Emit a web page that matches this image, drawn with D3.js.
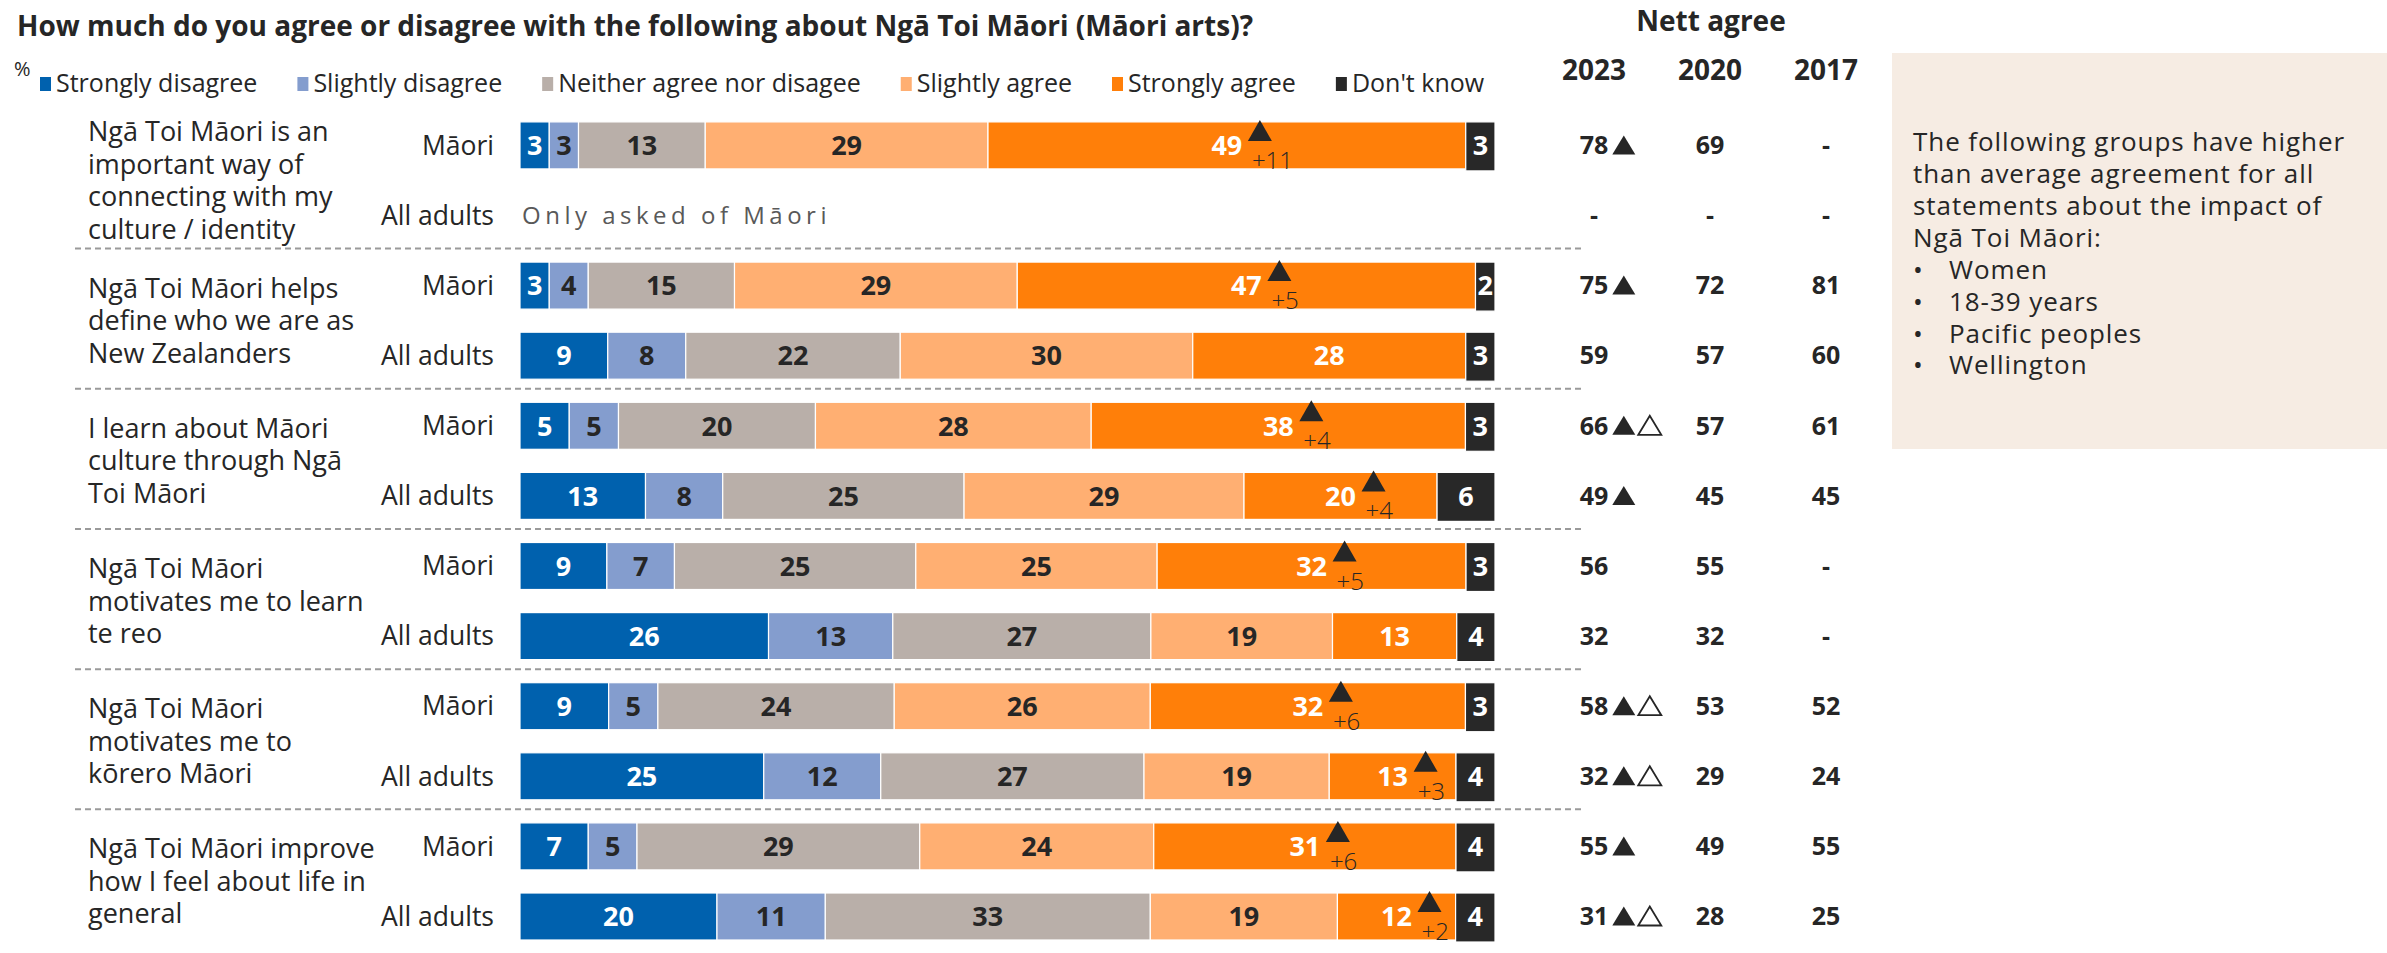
<!DOCTYPE html>
<html>
<head>
<meta charset="utf-8">
<script src="https://cdn.jsdelivr.net/npm/d3@7"></script>
<style>
  body { margin: 0; background: #fff; }
  svg { display: block; font-family: "Century Gothic", "Open Sans", sans-serif; }
</style>
</head>
<body>
<div id="chart"></div>
<script>
// ---- data ----
const title = "How much do you agree or disagree with the following about Ngā Toi Māori (Māori arts)?";
const seriesNames = ["Strongly disagree", "Slightly disagree", "Neither agree nor disagee", "Slightly agree", "Strongly agree", "Don't know"];
const statements = [
  ["Ngā Toi Māori is an", "important way of", "connecting with my", "culture / identity"],
  ["Ngā Toi Māori helps", "define who we are as", "New Zealanders"],
  ["I learn about Māori", "culture through Ngā", "Toi Māori"],
  ["Ngā Toi Māori", "motivates me to learn", "te reo"],
  ["Ngā Toi Māori", "motivates me to", "kōrero Māori"],
  ["Ngā Toi Māori improve", "how I feel about life in", "general"],
];
const groups = ["Māori", "All adults"];
// one value per row: statement 1 Māori, statement 1 All adults, statement 2 Māori, ...
const stronglyDisagree = [3, null, 3, 9, 5, 13, 9, 26, 9, 25, 7, 20];
const slightlyDisagree = [3, null, 4, 8, 5, 8, 7, 13, 5, 12, 5, 11];
const neither = [13, null, 15, 22, 20, 25, 25, 27, 24, 27, 29, 33];
const slightlyAgree = [29, null, 29, 30, 28, 29, 25, 19, 26, 19, 24, 19];
const stronglyAgree = [49, null, 47, 28, 38, 20, 32, 13, 32, 13, 31, 12];
const dontKnow = [3, null, 2, 3, 3, 6, 3, 4, 3, 4, 4, 4];
const agreeChange = ["+11", null, "+5", null, "+4", "+4", "+5", null, "+6", "+3", "+6", "+2"];
const notAskedText = "Only asked of Māori";

const nettYears = ["2023", "2020", "2017"];
const nett2023 = ["78", "-", "75", "59", "66", "49", "56", "32", "58", "32", "55", "31"];
const nett2020 = ["69", "-", "72", "57", "57", "45", "55", "32", "53", "29", "49", "28"];
const nett2017 = ["-", "-", "81", "60", "61", "45", "-", "-", "52", "24", "55", "25"];
// ▲ = filled triangle, △ = outlined triangle
const nettMarks = ["▲", "", "▲", "", "▲△", "▲", "", "", "▲△", "▲△", "▲", "▲△"];

const noteLines = ["The following groups have higher", "than average agreement  for all", "statements about the impact of", "Ngā Toi Māori:"];
const noteBullets = ["Women", "18-39 years", "Pacific peoples", "Wellington"];

// ---- styles ----
const seriesColors = ["#0061ae", "#849dce", "#b9afa9", "#ffaf72", "#ff7f09", "#282828"];
const labelColors = ["#fff", "#262626", "#262626", "#262626", "#fff", "#fff"];
const ink = "#262626";

const width = 2387, height = 953;
const barH = 47;
const lineH = 32.5;

const svg = d3.select("#chart").append("svg")
  .attr("width", width).attr("height", height)
  .attr("viewBox", [0, 0, width, height]);

// ---- scales ----
const rowIds = d3.range(statements.length * groups.length);
const y = d3.scalePoint().domain(rowIds).range([145.4, 916.5]);
const x = d3.scaleLinear().domain([0, 1]).range([520, 1495]);
const xNett = d3.scalePoint().domain(nettYears).range([1594, 1826]);

const seriesValues = [stronglyDisagree, slightlyDisagree, neither, slightlyAgree, stronglyAgree, dontKnow];
const table = rowIds
  .map((id) => {
    const o = { id };
    seriesNames.forEach((s, k) => (o[s] = seriesValues[k][id]));
    return o;
  })
  .filter((d) => d[seriesNames[0]] != null);
const stacked = d3.stack().keys(seriesNames).offset(d3.stackOffsetExpand)(table);

// ---- title + legend ----
svg.append("text")
  .attr("x", 17).attr("y", 36)
  .attr("font-size", 28).attr("font-weight", 700).attr("fill", ink)
  .text(title);

svg.append("text")
  .attr("x", 14).attr("y", 76)
  .attr("font-size", 20).attr("fill", ink)
  .text("%");

const legend = svg.append("g").attr("class", "legend");
let lx = 40;
seriesNames.forEach((name, i) => {
  const g = legend.append("g").attr("transform", `translate(${lx},0)`);
  g.append("rect")
    .attr("x", 0).attr("y", 77).attr("width", 11).attr("height", 14)
    .attr("fill", seriesColors[i]);
  const t = g.append("text")
    .attr("x", 16).attr("y", 92)
    .attr("font-size", 25).attr("fill", ink)
    .text(name);
  lx += 16 + t.node().getComputedTextLength() + 40;
});

// ---- separators ----
const sepG = svg.append("g").attr("class", "separators");
d3.range(1, statements.length).forEach((s) => {
  const yy = (y(s * 2 - 1) + y(s * 2)) / 2 - 2;
  sepG.append("line")
    .attr("x1", 75).attr("x2", 1584)
    .attr("y1", yy).attr("y2", yy)
    .attr("stroke", "#9a9a9a").attr("stroke-width", 2)
    .attr("stroke-dasharray", "6,4");
});

// ---- statement labels ----
statements.forEach((lines, s) => {
  const yc = (y(s * 2) + y(s * 2 + 1)) / 2;
  const t = svg.append("text")
    .attr("font-size", 27).attr("fill", ink);
  lines.forEach((line, j) => {
    t.append("tspan")
      .attr("x", 88)
      .attr("y", yc - ((lines.length - 1) / 2) * lineH + j * lineH)
      .attr("dy", "0.35em")
      .text(line);
  });
});

// group labels
svg.append("g")
  .selectAll("text")
  .data(rowIds)
  .join("text")
  .attr("x", 494)
  .attr("y", (d) => y(d))
  .attr("dy", "0.35em")
  .attr("text-anchor", "end")
  .attr("font-size", 26.5)
  .attr("fill", ink)
  .text((d) => groups[d % 2]);

// ---- bars ----
const segs = svg.append("g")
  .selectAll("g")
  .data(stacked)
  .join("g")
  .attr("fill", (d, i) => seriesColors[i]);

segs.selectAll("rect")
  .data((d) => d.map((p) => ({ p, key: d.key, index: d.index })))
  .join("rect")
  .attr("x", (d) => x(d.p[0]))
  .attr("width", (d) => x(d.p[1]) - x(d.p[0]))
  .attr("y", (d) => y(d.p.data.id) - barH / 2)
  .attr("height", (d) => barH + (d.index === 5 ? 2 : 0))
  .attr("stroke", "#fff")
  .attr("stroke-width", 1.2);

segs.selectAll("text")
  .data((d) => d.map((p) => ({ p, key: d.key, index: d.index })))
  .join("text")
  .attr("x", (d) => x((d.p[0] + d.p[1]) / 2))
  .attr("y", (d) => y(d.p.data.id))
  .attr("dy", "0.36em")
  .attr("text-anchor", "middle")
  .attr("font-size", 27)
  .attr("font-weight", 700)
  .attr("fill", (d) => labelColors[d.index])
  .text((d) => d.p.data[d.key]);

// rows with no bar
rowIds
  .filter((id) => stronglyDisagree[id] == null)
  .forEach((id) => {
    svg.append("text")
      .attr("x", x(0) + 2)
      .attr("y", y(id))
      .attr("dy", "0.35em")
      .attr("font-size", 24)
      .attr("letter-spacing", 4.5)
      .attr("fill", "#595959")
      .text(notAskedText);
  });

// significant change markers on "Strongly agree"
const agreeSeries = stacked[4];
const changeG = svg.append("g").attr("class", "changes");
rowIds
  .filter((id) => agreeChange[id])
  .forEach((id) => {
    const p = agreeSeries.find((q) => q.data.id === id);
    const cx = x((p[0] + p[1]) / 2) + 33;
    const top = y(id) - barH / 2 - 2;
    changeG.append("path")
      .attr("d", `M${cx - 12},${top + 21}L${cx},${top}L${cx + 12},${top + 21}Z`)
      .attr("fill", ink);
    changeG.append("text")
      .attr("x", cx - 8)
      .attr("y", y(id) + barH / 2)
      .attr("font-size", 24)
      .attr("font-weight", 300)
      .attr("fill", ink)
      .text(agreeChange[id]);
  });

// ---- nett agree table ----
svg.append("text")
  .attr("x", 1711).attr("y", 31)
  .attr("text-anchor", "middle")
  .attr("font-size", 28).attr("font-weight", 700).attr("fill", ink)
  .text("Nett agree");

svg.append("g")
  .selectAll("text")
  .data(nettYears)
  .join("text")
  .attr("x", (d) => xNett(d))
  .attr("y", 80)
  .attr("text-anchor", "middle")
  .attr("font-size", 28)
  .attr("font-weight", 700)
  .attr("fill", ink)
  .text((d) => d);

const nettCols = [nett2023, nett2020, nett2017];
const nettG = svg.append("g").attr("class", "nett");
nettCols.forEach((col, c) => {
  rowIds.forEach((id) => {
    const t = nettG.append("text")
      .attr("x", xNett(nettYears[c]))
      .attr("y", y(id))
      .attr("dy", "0.35em")
      .attr("text-anchor", "middle")
      .attr("font-size", 25)
      .attr("font-weight", 700)
      .attr("fill", ink)
      .text(col[id]);
    if (c === 0 && nettMarks[id]) {
      const w = t.node().getComputedTextLength();
      const base = y(id) + 9;
      let mx = xNett(nettYears[c]) + w / 2 + 4;
      Array.from(nettMarks[id]).forEach((m) => {
        const filled = m === "▲";
        nettG.append("path")
          .attr("d", `M${mx},${base}L${mx + 11.5},${base - 19}L${mx + 23},${base}Z`)
          .attr("fill", filled ? ink : "#fff")
          .attr("stroke", ink)
          .attr("stroke-width", filled ? 0 : 1.8);
        mx += 26;
      });
    }
  });
});

// ---- note box ----
const note = svg.append("g").attr("class", "note");
note.append("rect")
  .attr("x", 1892).attr("y", 53)
  .attr("width", width - 1892).attr("height", 396)
  .attr("fill", "#f6ece3");
const noteText = note.append("text").attr("font-size", 26).attr("fill", ink);
const noteLineH = 31.9;
noteLines.forEach((line, j) => {
  noteText.append("tspan")
    .attr("class", "note-line")
    .attr("x", 1913).attr("y", 142 + j * noteLineH).attr("dy", "0.35em")
    .text(line);
});
noteBullets.forEach((b, j) => {
  const yy = 142 + (noteLines.length + j) * noteLineH;
  noteText.append("tspan")
    .attr("x", 1913).attr("y", yy).attr("dy", "0.35em")
    .text("•");
  noteText.append("tspan")
    .attr("class", "note-line")
    .attr("x", 1949).attr("y", yy).attr("dy", "0.35em")
    .text(b);
});
// widen the note text so its first line spans the same width as in the original
const firstLine = noteText.select(".note-line").node();
const firstW = firstLine.getComputedTextLength();
const spacing = Math.max(0, (432 - firstW) / noteLines[0].length);
noteText.selectAll(".note-line").attr("letter-spacing", spacing);
</script>
</body>
</html>
